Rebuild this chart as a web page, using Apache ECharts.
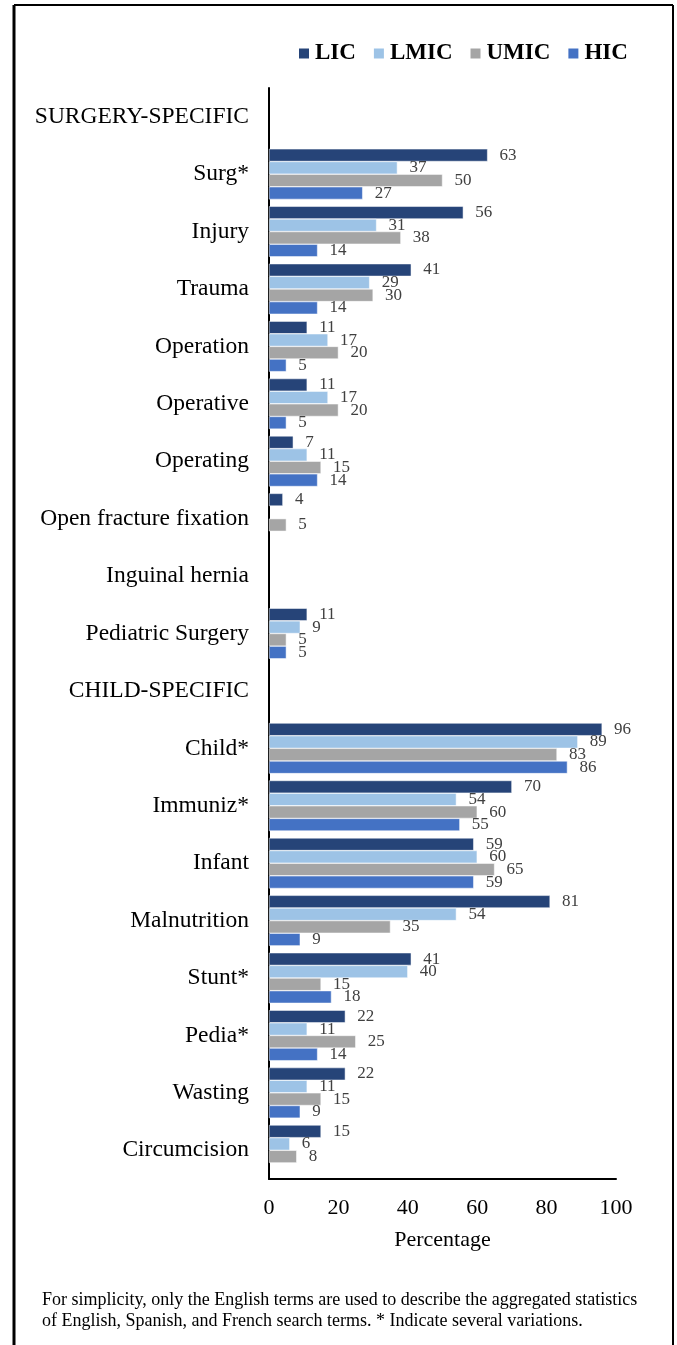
<!DOCTYPE html>
<html>
<head>
<meta charset="utf-8">
<script src="https://cdn.jsdelivr.net/npm/echarts@6/dist/echarts.min.js"></script>
<style>html,body{margin:0;padding:0;background:#fff}#c{width:677px;height:1345px}</style>
</head>
<body>
<div id="c"></div>
<script>
const categories = ['SURGERY-SPECIFIC','Surg*','Injury','Trauma','Operation','Operative','Operating','Open fracture fixation','Inguinal hernia','Pediatric Surgery','CHILD-SPECIFIC','Child*','Immuniz*','Infant','Malnutrition','Stunt*','Pedia*','Wasting','Circumcision'];
const seriesNames = ['LIC','LMIC','UMIC','HIC'];
const LIC  = [null,63,56,41,11,11,7,4,null,11,null,96,70,59,81,41,22,22,15];
const LMIC = [null,37,31,29,17,17,11,null,null,9,null,89,54,60,54,40,11,11,6];
const UMIC = [null,50,38,30,20,20,15,5,null,5,null,83,60,65,35,15,25,15,8];
const HIC  = [null,27,14,14,5,5,14,null,null,5,null,86,55,59,9,18,14,9,null];
const xTicks = [0,20,40,60,80,100];
const footnote = 'For simplicity, only the English terms are used to describe the aggregated statistics\nof English, Spanish, and French search terms. * Indicate several variations.';

const colors = ['#264478','#9DC3E6','#A5A5A5','#4472C4'];
const serif = '"Liberation Serif","DejaVu Serif",serif';
const values = [LIC, LMIC, UMIC, HIC];

const chart = echarts.init(document.getElementById('c'));
chart.setOption({
  animation: false,
  backgroundColor: '#fff',
  color: colors,
  legend: {
    data: seriesNames,
    left: 292, top: 37,
    icon: 'rect', itemWidth: 12, itemHeight: 12, itemGap: 16,
    textStyle: { fontFamily: serif, fontWeight: 'bold', fontSize: 23, color: '#000' }
  },
  grid: { left: 269, right: 61, top: 88, bottom: 166, containLabel: false },
  xAxis: {
    type: 'value', min: xTicks[0], max: xTicks[xTicks.length-1], interval: 20,
    name: 'Percentage', nameLocation: 'middle', nameGap: 50,
    nameTextStyle: { fontFamily: serif, fontSize: 22, color: '#000' },
    axisLine: { show: true, lineStyle: { color: '#000', width: 2 } },
    axisTick: { show: false },
    splitLine: { show: false },
    axisLabel: { fontFamily: serif, fontSize: 22, color: '#000', margin: 18 }
  },
  yAxis: {
    type: 'category', data: categories, inverse: true,
    axisLine: { show: true, lineStyle: { color: '#000', width: 2 } },
    axisTick: { show: false },
    axisLabel: { fontFamily: serif, fontSize: 23.5, color: '#000', margin: 20 }
  },
  series: seriesNames.map((n, i) => ({
    name: n, type: 'bar', data: values[i],
    barGap: '0%', barCategoryGap: '12%',
    itemStyle: { color: colors[i], borderColor: '#fff', borderWidth: 0.5 },
    label: { show: true, position: 'right', distance: 12, fontFamily: serif, fontSize: 17, color: '#404040' }
  })),
  graphic: [
    { type: 'line', shape: { x1: 14, y1: 5, x2: 673, y2: 5 }, style: { stroke: '#000', lineWidth: 2 } },
    { type: 'line', shape: { x1: 14, y1: 5, x2: 14, y2: 1345 }, style: { stroke: '#000', lineWidth: 3 } },
    { type: 'line', shape: { x1: 673, y1: 5, x2: 673, y2: 1345 }, style: { stroke: '#000', lineWidth: 2 } },
    { type: 'text', left: 42, top: 1290, style: { text: footnote, fontFamily: serif, fontSize: 18, lineHeight: 21, fill: '#000' } }
  ]
});
</script>
</body>
</html>
